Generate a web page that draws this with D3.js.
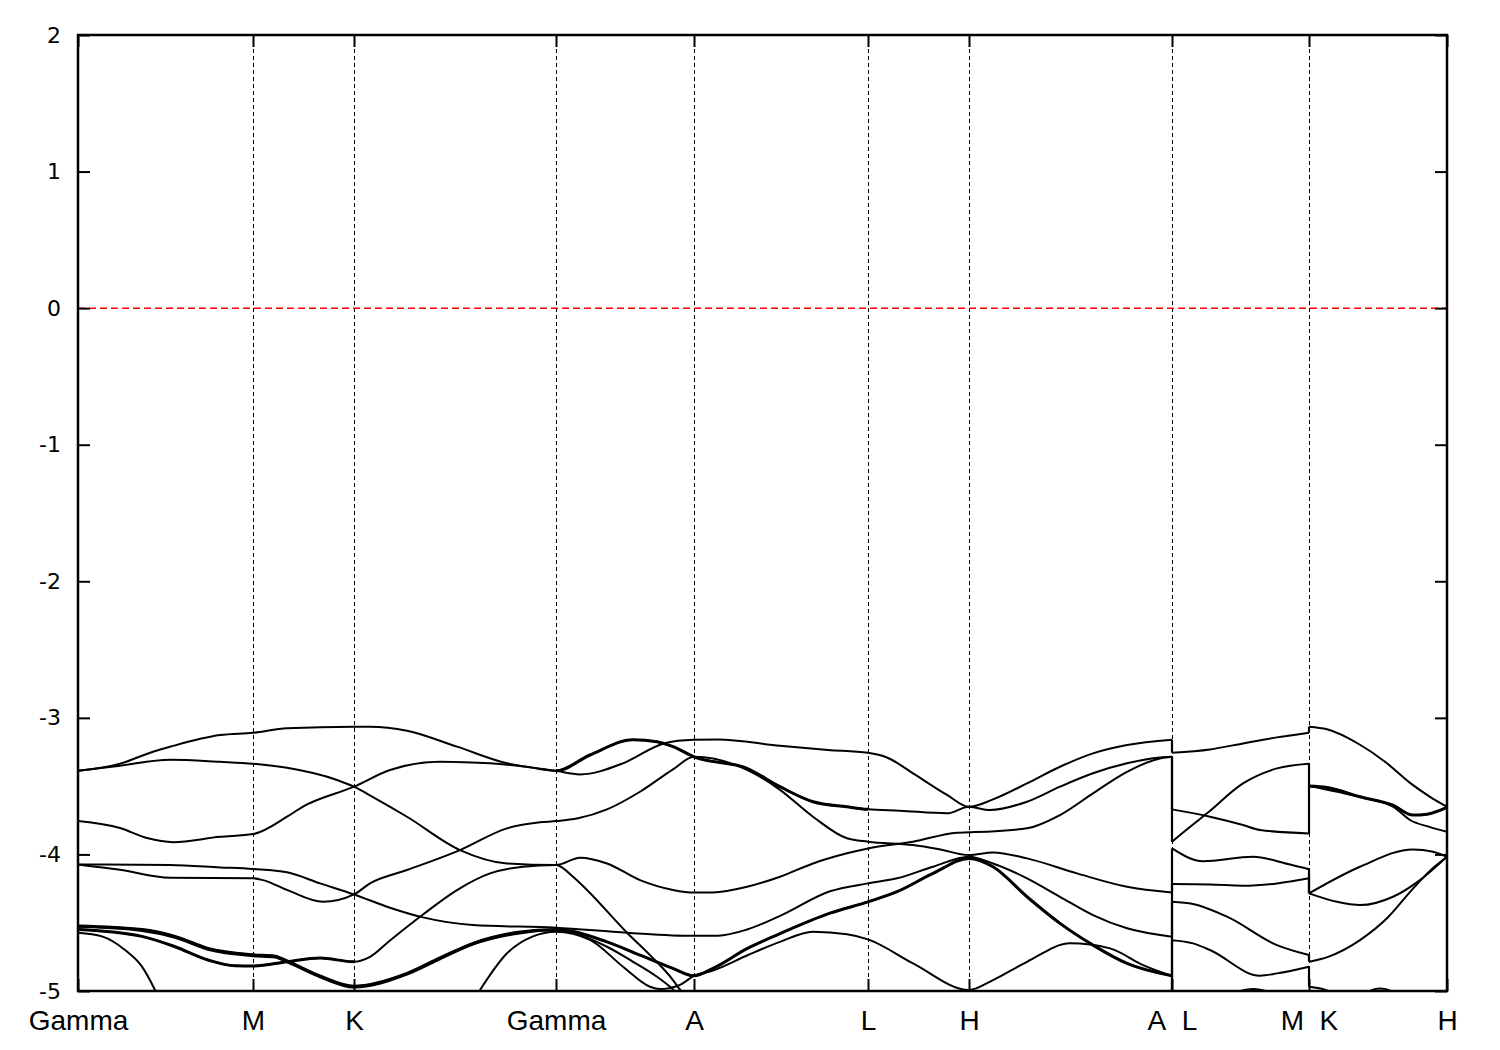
<!DOCTYPE html>
<html><head><meta charset="utf-8">
<script src="https://cdn.jsdelivr.net/npm/d3@7"></script>
<style>body{margin:0;background:#fff}</style>
</head><body><svg id="c" width="1500" height="1050"></svg>
<script>
// ---------- data ----------
const kTicks = [0, 1.75, 2.76, 4.78, 6.16, 7.90, 8.91, 10.94, 12.31, 13.69];
const kLabels = ["Gamma","M","K","Gamma","A","L","H","A\u00a0\u00a0L","M\u00a0\u00a0K","H"];
const yTicks = [-5,-4,-3,-2,-1,0,1,2];
const fermiLevel = 0;

const band1 = [[0,-3.388],[0.42,-3.336],[0.75,-3.248],[0.92,-3.212],[1.42,-3.126],[1.75,-3.109],[2.09,-3.076],[2.76,-3.065],[2.92,-3.065],[3.29,-3.094],[3.79,-3.211],[4.29,-3.333],[4.78,-3.388],
 [5.02,-3.414],[5.45,-3.333],[5.85,-3.19],[6.0,-3.168],[6.16,-3.160],
 [6.4,-3.158],[7.02,-3.205],[7.5,-3.235],[7.90,-3.256],[8.09,-3.29],[8.35,-3.406],[8.69,-3.564],[8.91,-3.651],
 [9.15,-3.597],[9.49,-3.48],[9.82,-3.358],[10.15,-3.26],[10.49,-3.199],[10.94,-3.160],
 [10.94,-3.256],[11.32,-3.231],[11.65,-3.187],[11.99,-3.143],[12.31,-3.109],
 [12.31,-3.065],[12.49,-3.084],[12.82,-3.197],[13.07,-3.321],[13.32,-3.476],[13.52,-3.578],[13.69,-3.651]];

const band2 = [[0,-3.388],[0.42,-3.35],[0.92,-3.307],[1.42,-3.322],[1.75,-3.336],[2.09,-3.366],[2.59,-3.455],[2.76,-3.504],[2.95,-3.58],[3.29,-3.724],[3.82,-3.968],[4.29,-4.066],[4.78,-4.078],
 [5.02,-4.024],[5.29,-4.066],[5.62,-4.188],[5.95,-4.26],[6.16,-4.279],
 [6.35,-4.278],[6.69,-4.237],[7.02,-4.163],[7.35,-4.066],[7.69,-3.992],[7.90,-3.956],[8.35,-3.907],[8.79,-3.841],[8.91,-3.838],
 [9.49,-3.809],[9.82,-3.712],[10.15,-3.553],[10.49,-3.395],[10.82,-3.297],[10.94,-3.285],
 [10.94,-3.907],[11.1,-3.81],[11.29,-3.699],[11.65,-3.48],[11.99,-3.37],[12.31,-3.336],
 [12.31,-3.499],[12.49,-3.51],[12.82,-3.578],[13.15,-3.64],[13.35,-3.712],[13.49,-3.705],[13.69,-3.655]];

const band3 = [[0,-3.756],[0.42,-3.807],[0.69,-3.88],[0.95,-3.91],[1.42,-3.871],[1.75,-3.851],[2.09,-3.724],[2.25,-3.65],[2.76,-3.504],[3.12,-3.382],[3.62,-3.321],[4.12,-3.333],[4.5,-3.36],[4.78,-3.388],
 [5.12,-3.272],[5.55,-3.160],[5.79,-3.175],[5.95,-3.211],[6.16,-3.285],
 [6.69,-3.37],[7.02,-3.504],[7.35,-3.614],[7.69,-3.651],[7.90,-3.67],[8.22,-3.68],[8.69,-3.699],[8.91,-3.651],
 [9.12,-3.675],[9.49,-3.614],[9.82,-3.504],[10.15,-3.406],[10.49,-3.333],[10.82,-3.29],[10.94,-3.285],
 [10.94,-3.67],[11.32,-3.724],[11.65,-3.785],[11.82,-3.821],[12.31,-3.846],
 [12.31,-3.499],[12.82,-3.58],[13.15,-3.65],[13.32,-3.748],[13.52,-3.8],[13.69,-3.834]];

const band4 = [[0,-4.073],[0.42,-4.113],[0.92,-4.171],[1.75,-4.175],[1.85,-4.188],[2.09,-4.26],[2.45,-4.347],[2.76,-4.293],[2.92,-4.212],[3.29,-4.114],[3.82,-3.968],[4.29,-3.809],[4.62,-3.765],[4.78,-3.756],
 [5.0,-3.735],[5.29,-3.67],[5.62,-3.541],[5.95,-3.377],[6.16,-3.285],
 [6.69,-3.38],[7.02,-3.527],[7.35,-3.724],[7.69,-3.882],[7.90,-3.907],[8.35,-3.931],[8.6,-3.96],[8.91,-4.005],
 [9.15,-3.985],[9.49,-4.029],[9.99,-4.139],[10.49,-4.237],[10.94,-4.279],
 [10.94,-3.956],[11.25,-4.05],[11.75,-4.017],[12.1,-4.07],[12.31,-4.109],
 [12.31,-4.285],[12.82,-4.09],[13.35,-3.963],[13.55,-3.98],[13.69,-4.017]];

const band5 = [[0,-4.073],[0.92,-4.078],[1.42,-4.095],[1.75,-4.107],[2.09,-4.131],[2.42,-4.212],[2.76,-4.293],[3.12,-4.39],[3.45,-4.461],[3.95,-4.517],[4.78,-4.537],
 [5.49,-4.573],[6.16,-4.596],
 [6.4,-4.595],[6.69,-4.55],[7.02,-4.45],[7.52,-4.27],[7.90,-4.212],[8.19,-4.175],[8.55,-4.09],[8.91,-4.017],
 [9.15,-4.066],[9.49,-4.175],[9.82,-4.31],[10.15,-4.444],[10.49,-4.541],[10.94,-4.602],
 [10.94,-4.217],[11.32,-4.22],[11.65,-4.229],[11.99,-4.212],[12.31,-4.175],
 [12.31,-4.285],[12.59,-4.347],[12.82,-4.371],[13.15,-4.31],[13.42,-4.188],[13.69,-4.017]];

const band6 = [[0,-4.524],[0.64,-4.55],[0.97,-4.6],[1.3,-4.688],[1.75,-4.735],[1.97,-4.745],[2.09,-4.78],[2.42,-4.89],[2.76,-4.965],[3.29,-4.871],[3.62,-4.758],[3.95,-4.651],[4.4,-4.57],[4.78,-4.55],
 [5.29,-4.64],[5.62,-4.737],[5.95,-4.834],[6.16,-4.889],
 [6.35,-4.834],[6.69,-4.69],[7.02,-4.58],[7.52,-4.43],[7.90,-4.347],[8.19,-4.273],[8.55,-4.139],[8.91,-4.029],
 [9.15,-4.09],[9.49,-4.31],[9.82,-4.505],[10.15,-4.664],[10.49,-4.798],[10.94,-4.889],
 [10.94,-4.347],[11.15,-4.363],[11.49,-4.456],[11.99,-4.664],[12.31,-4.737],
 [12.31,-4.786],[12.5,-4.75],[12.82,-4.627],[13.1,-4.46],[13.35,-4.25],[13.55,-4.1],[13.69,-4.017]];

const band7 = [[0,-4.573],[0.24,-4.6],[0.47,-4.7],[0.64,-4.822],[0.77,-4.993],[0.95,-5.3],[1.75,-5.8],[2.76,-5.8],[3.7,-5.4],[4.02,-4.993],[4.29,-4.724],[4.55,-4.6],[4.78,-4.566],
 [5.12,-4.626],[5.45,-4.822],[5.72,-4.969],[5.82,-4.986],[6.02,-4.955],[6.16,-4.889],
 [6.35,-4.85],[6.69,-4.74],[7.02,-4.64],[7.35,-4.566],[7.69,-4.585],[7.90,-4.622],[8.35,-4.798],[8.91,-4.993],
 [9.15,-4.92],[9.49,-4.786],[9.92,-4.651],[10.32,-4.688],[10.65,-4.81],[10.94,-4.889],
 [10.94,-5.15],[11.47,-5.03],[11.75,-4.985],[12.02,-5.03],[12.31,-5.12],
 [12.31,-5.1],[12.72,-5.06],[13.02,-4.982],[13.32,-5.06],[13.69,-5.2]];

const band8 = [[0,-4.55],[0.64,-4.6],[0.97,-4.676],[1.3,-4.773],[1.57,-4.815],[1.75,-4.817],[2.09,-4.786],[2.42,-4.758],[2.76,-4.786],[2.92,-4.75],[3.12,-4.63],[3.45,-4.44],[3.79,-4.261],[4.12,-4.139],[4.45,-4.09],[4.78,-4.078],
 [4.95,-4.163],[5.09,-4.26],[5.49,-4.573],[5.72,-4.737],[5.95,-4.92],[6.02,-4.99],[6.16,-5.1],[7.0,-5.5],[8.91,-5.6],[10.94,-5.4],
 [10.94,-4.628],[11.15,-4.651],[11.32,-4.70],[11.82,-4.888],[11.99,-4.871],[12.31,-4.822],
 [12.31,-4.969],[12.49,-4.995],[12.7,-5.08],[13.2,-5.3],[13.69,-5.4]];

const band9 = [[0,-4.53],[0.64,-4.56],[0.97,-4.61],[1.3,-4.698],[1.75,-4.745],[1.97,-4.755],[2.09,-4.79],[2.42,-4.9],[2.76,-4.975],[3.29,-4.88],[3.62,-4.768],[3.95,-4.66],[4.4,-4.58],[4.78,-4.555],
 [5.29,-4.676],[5.55,-4.786],[5.79,-4.896],[5.92,-4.969],[6.16,-5.15],[6.6,-5.4]];

const bands = [band1, band2, band3, band4, band5, band6, band7, band8, band9];

// ---------- drawing ----------
const L = 78, R = 1447, T = 35, B = 991;
const svg = d3.select("#c");
const x = d3.scaleLinear().domain([kTicks[0], kTicks[kTicks.length-1]]).range([L, R]);
const y = d3.scaleLinear().domain([-5, 2]).range([B, T]);
const FONT = "'Liberation Sans', Arial, Helvetica, sans-serif";
const YFONT = "'DejaVu Sans', 'Liberation Sans', sans-serif";

const defs = svg.append("defs");
defs.append("clipPath").attr("id","plotclip").append("rect")
  .attr("x", L).attr("y", T).attr("width", R-L).attr("height", B-T);

// grid
svg.append("g").selectAll("line").data(kTicks).join("line")
  .attr("x1", d => Math.round(x(d)) + 0.5).attr("x2", d => Math.round(x(d)) + 0.5)
  .attr("y1", T).attr("y2", B)
  .attr("stroke", "#000").attr("stroke-width", 1).attr("stroke-dasharray", "4,3")
  .attr("shape-rendering", "crispEdges");

// fermi level
svg.append("line")
  .attr("x1", L).attr("x2", R).attr("y1", y(fermiLevel)).attr("y2", y(fermiLevel))
  .attr("stroke", "#ff0000").attr("stroke-width", 1.5).attr("stroke-dasharray", "7,4");

// bands
const curve = d3.line().x(d => x(d[0])).y(d => y(d[1])).curve(d3.curveMonotoneX);
const straight = d3.line().x(d => x(d[0])).y(d => y(d[1]));
function split(band) {
  const pieces = [], jumps = [];
  let cur = [band[0]];
  for (let i = 1; i < band.length; i++) {
    if (Math.abs(band[i][0] - band[i-1][0]) < 1e-9) {
      pieces.push(cur); jumps.push([band[i-1], band[i]]); cur = [band[i]];
    } else cur.push(band[i]);
  }
  pieces.push(cur);
  return {pieces, jumps};
}
// thicker rendering where bands are (near-)degenerate in the reference
const thickSpans = [[2,[4.78,7.90]],[5,[0,10.94]],[7,[0,2.76]],[1,[12.31,13.69]]];
thickSpans.forEach(([bi, span], j) => {
  defs.append("clipPath").attr("id","tc"+j).append("rect")
    .attr("x", x(span[0])).attr("y", T).attr("width", x(span[1]) - x(span[0])).attr("height", B-T);
});

const gBands = svg.append("g").attr("clip-path","url(#plotclip)");
bands.forEach((band, bi) => {
  const {pieces, jumps} = split(band);
  pieces.forEach(p => gBands.append("path").attr("d", curve(p))
    .attr("fill","none").attr("stroke","#000").attr("stroke-width",2));
  jumps.forEach(p => gBands.append("path").attr("d", straight(p))
    .attr("fill","none").attr("stroke","#000").attr("stroke-width",2.2));
});
thickSpans.forEach(([bi, span], j) => {
  const {pieces} = split(bands[bi]);
  const g = gBands.append("g").attr("clip-path","url(#tc"+j+")");
  pieces.forEach(p => g.append("path").attr("d", curve(p))
    .attr("fill","none").attr("stroke","#000").attr("stroke-width",3));
});

// axes
function styleAxis(g, size, fam) {
  g.select(".domain").remove();
  g.selectAll(".tick line").attr("stroke","#000").attr("stroke-width",2);
  g.selectAll("text").attr("fill","#000").style("font-family", fam).style("font-size", size+"px");
}
svg.append("g").attr("transform",`translate(0,${B})`)
  .call(d3.axisBottom(x).tickValues(kTicks).tickFormat((d,i) => kLabels[i]).tickSize(-12).tickPadding(19))
  .call(g => styleAxis(g, 28, FONT));
svg.append("g").attr("transform",`translate(0,${T})`)
  .call(d3.axisTop(x).tickValues(kTicks).tickFormat(() => "").tickSize(-12))
  .call(g => styleAxis(g, 28, FONT));
svg.append("g").attr("transform",`translate(${L},0)`)
  .call(d3.axisLeft(y).tickValues(yTicks).tickFormat(d => String(d)).tickSize(-12).tickPadding(17))
  .call(g => styleAxis(g, 22, YFONT));
svg.append("g").attr("transform",`translate(${R},0)`)
  .call(d3.axisRight(y).tickValues(yTicks).tickFormat(() => "").tickSize(-12))
  .call(g => styleAxis(g, 22, YFONT));

// frame
svg.append("rect").attr("x", L).attr("y", T).attr("width", R-L).attr("height", B-T)
  .attr("fill","none").attr("stroke","#000").attr("stroke-width",2.5);
</script></body></html>
